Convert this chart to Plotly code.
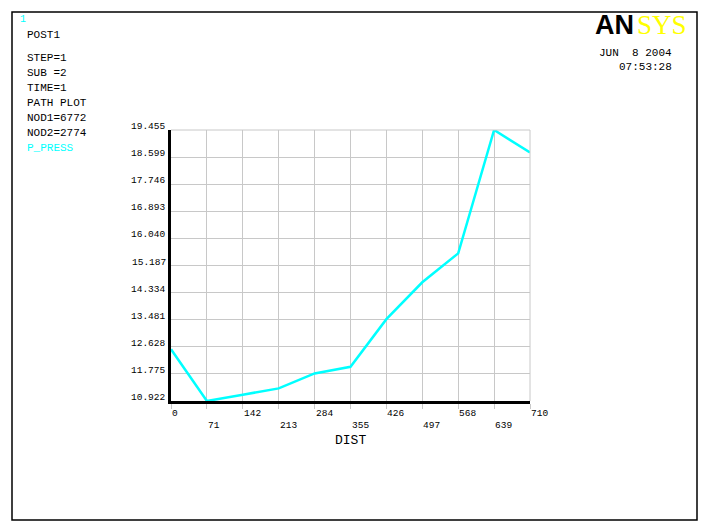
import plotly.graph_objects as go

# ---- data ----
dist = [0, 71, 142, 213, 284, 355, 426, 497, 568, 639, 710]
p_press = [12.55, 10.922, 11.12, 11.32, 11.79, 12.00, 13.50, 14.66, 15.57, 19.455, 18.75]

x_ticks = [0, 71, 142, 213, 284, 355, 426, 497, 568, 639, 710]
y_ticks = [10.922, 11.775, 12.628, 13.481, 14.334, 15.187, 16.040, 16.893, 17.746, 18.599, 19.455]
y_tick_labels = ["10.922", "11.775", "12.628", "13.481", "14.334", "15.187",
                 "16.040", "16.893", "17.746", "18.599", "19.455"]
info_lines = ["STEP=1", "SUB =2", "TIME=1", "PATH PLOT", "NOD1=6772", "NOD2=2774"]

OFF = 8  # page body margin in the browser
W, H = 713 - OFF, 532 - OFF
L, R, T, B = 171 - OFF, 530 - OFF, 130 - OFF, 401 - OFF
PW, PH = R - L, B - T
FONT = "Liberation Mono"
GRID = "#c8c8c8"
CYAN = "#00ffff"


def px(x):
    return (x - OFF - L) / PW


def py(y):
    return (B - (y - OFF)) / PH


fig = go.Figure()
fig.add_trace(go.Scatter(x=dist, y=p_press, mode="lines",
                         line=dict(color=CYAN, width=2.5), showlegend=False,
                         hoverinfo="skip"))

annotations = []
# x tick labels, alternating rows, left aligned at tick
for i, v in enumerate(x_ticks):
    annotations.append(dict(x=v, xref="x", y=0, yref="paper", text=str(v),
                            showarrow=False, xanchor="left", yanchor="middle",
                            xshift=-1, yshift=-12 if i % 2 == 0 else -24,
                            font=dict(family=FONT, size=9.5, color="black")))
# y tick labels, bottom aligned on grid line
for v, t in zip(y_ticks, y_tick_labels):
    annotations.append(dict(x=0, xref="paper", y=v, yref="y", text=t,
                            showarrow=False, xanchor="right", yanchor="bottom",
                            xshift=-3, yshift=-4,
                            font=dict(family=FONT, size=9.5, color="black")))
# axis title
annotations.append(dict(x=0.5, xref="paper", y=py(440), yref="paper", text="DIST",
                        showarrow=False, xanchor="center", yanchor="middle",
                        font=dict(family=FONT, size=13, color="black")))
# left header text
annotations.append(dict(x=px(18), xref="paper", y=py(20), yref="paper", text="1",
                        showarrow=False, xanchor="left", yanchor="middle",
                        font=dict(family=FONT, size=10, color=CYAN)))
annotations.append(dict(x=px(25), xref="paper", y=py(35), yref="paper", text="POST1",
                        showarrow=False, xanchor="left", yanchor="middle",
                        font=dict(family=FONT, size=11, color="black")))
for i, t in enumerate(info_lines):
    annotations.append(dict(x=px(25), xref="paper", y=py(58.3 + i * 14.9), yref="paper",
                            text=t, showarrow=False, xanchor="left", yanchor="middle",
                            font=dict(family=FONT, size=11, color="black")))
annotations.append(dict(x=px(25), xref="paper", y=py(148), yref="paper", text="P_PRESS",
                        showarrow=False, xanchor="left", yanchor="middle",
                        font=dict(family=FONT, size=11, color=CYAN)))
# logo
annotations.append(dict(x=px(636), xref="paper", y=py(25), yref="paper",
                        text="<b>AN</b>", showarrow=False, xanchor="right",
                        yanchor="middle",
                        font=dict(family="Liberation Sans", size=27, color="black")))
annotations.append(dict(x=px(635), xref="paper", y=py(25), yref="paper",
                        text="SYS", showarrow=False, xanchor="left", yanchor="middle",
                        font=dict(family="Liberation Serif", size=27, color="#ffff00")))
# date / time
annotations.append(dict(x=px(674), xref="paper", y=py(52.5), yref="paper",
                        text="JUN  8 2004".replace(" ", "&nbsp;"), showarrow=False,
                        xanchor="right", yanchor="middle",
                        font=dict(family=FONT, size=11, color="black")))
annotations.append(dict(x=px(674), xref="paper", y=py(67.5), yref="paper",
                        text="07:53:28", showarrow=False, xanchor="right",
                        yanchor="middle",
                        font=dict(family=FONT, size=11, color="black")))

shapes = [
    # outer frame
    dict(type="rect", xref="paper", yref="paper", x0=px(12), x1=px(697),
         y0=py(520), y1=py(12), line=dict(color="black", width=1.5)),
    # top and right borders in grid colour
    dict(type="line", xref="paper", yref="paper", x0=0, x1=1, y0=1, y1=1,
         line=dict(color=GRID, width=1)),
    dict(type="line", xref="paper", yref="paper", x0=1, x1=1, y0=0, y1=1,
         line=dict(color=GRID, width=1)),
]

fig.update_layout(
    width=W, height=H,
    margin=dict(l=L, r=W - R, t=T, b=H - B, pad=0),
    paper_bgcolor="white", plot_bgcolor="white",
    showlegend=False,
    annotations=annotations,
    shapes=shapes,
    xaxis=dict(range=[0, 710], tickvals=x_ticks, showticklabels=False,
               showgrid=True, gridcolor=GRID, gridwidth=1, zeroline=False,
               showline=True, linecolor="black", linewidth=2.5,
               ticks="outside", ticklen=5, tickcolor=GRID, tickwidth=1,
               fixedrange=True),
    yaxis=dict(range=[10.922, 19.455], tickvals=y_ticks, showticklabels=False,
               showgrid=True, gridcolor=GRID, gridwidth=1, zeroline=False,
               showline=True, linecolor="black", linewidth=2.5,
               ticks="", fixedrange=True),
)

fig.write_html("out.html")
